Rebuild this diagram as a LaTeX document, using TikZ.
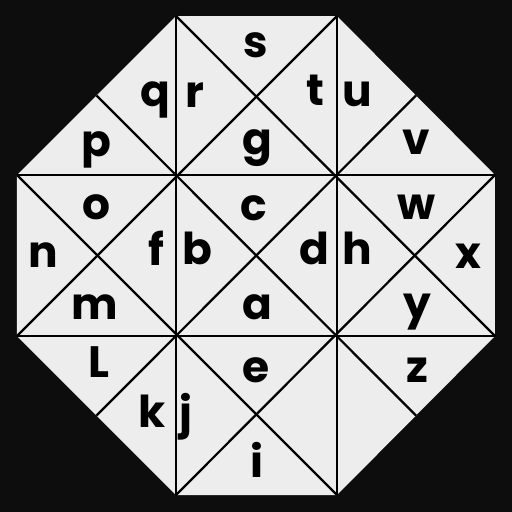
\documentclass[tikz,border=0pt]{standalone}
\usepackage{fontspec}
\setmainfont{Poppins}
\usetikzlibrary{calc}

\tikzset{letter/.style={font=\fontsize{25}{30}\selectfont\bfseries, inner sep=0pt}}

\begin{document}
\begin{tikzpicture}[x=0.02cm, y=-0.02cm, line width=0.045cm]
  \fill[black!95] (0,0) rectangle (512,512);

  \coordinate (T1) at (176, 16);
  \coordinate (T2) at (337, 16);
  \coordinate (R1) at (495, 175);
  \coordinate (R2) at (495, 336);
  \coordinate (B2) at (337, 495);
  \coordinate (B1) at (176, 495);
  \coordinate (L2) at (17, 336);
  \coordinate (L1) at (17, 175);

  \coordinate (M1) at ($(T1)!0.5!(L1)$);
  \coordinate (M2) at ($(T2)!0.5!(R1)$);
  \coordinate (M3) at ($(R2)!0.5!(B2)$);
  \coordinate (M4) at ($(B1)!0.5!(L2)$);

  \fill[white!93!black] (T1) -- (T2) -- (R1) -- (R2) -- (B2) -- (B1) -- (L2) -- (L1) -- cycle;
  \draw (T1) -- (B1);
  \draw (T2) -- (B2);
  \draw (L1) -- (R1);
  \draw (L2) -- (R2);
  \draw (T1) -- (R2);
  \draw (T2) -- (L2);
  \draw (L1) -- (B2);
  \draw (R1) -- (B1);
  \draw (M1) -- (M3);
  \draw (M2) -- (M4);

  \foreach \l/\x/\y in {s/256/45, q/155/100, r/195/95, t/315/90, u/357/94,
      p/96/150, g/257/148, v/416/142, o/96/207, c/254/208, w/417/207,
      n/43/255, f/156/248, b/197/248, d/314/248, h/357/248, x/468/256,
      m/95/307, a/257/307, y/417/312, L/99/362, e/256/370, z/417/370,
      k/152/411, j/186/417, i/257/460}
    \node[letter] (n\l) at (\x, \y) {\l};
\end{tikzpicture}
\end{document}
